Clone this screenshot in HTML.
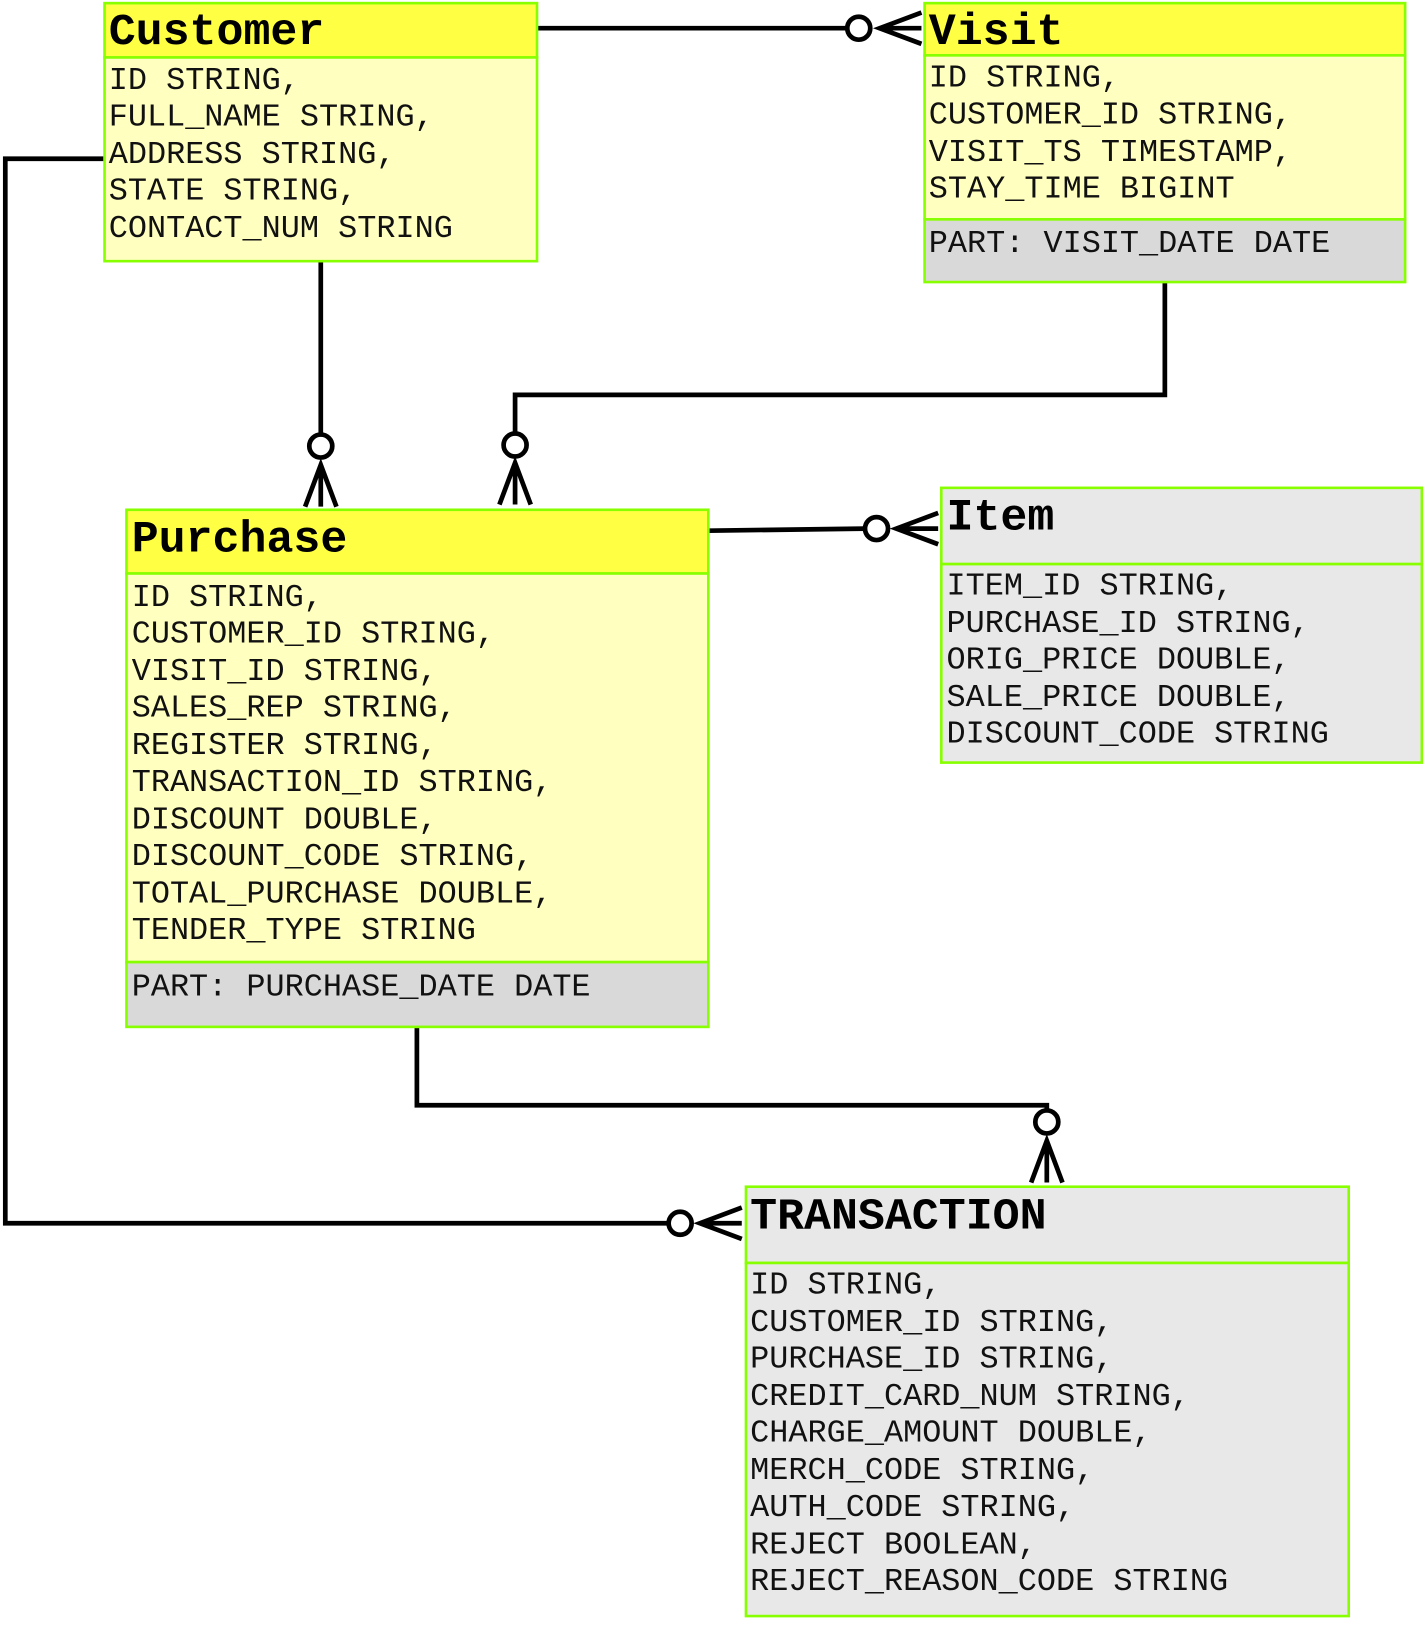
<!DOCTYPE html>
<html><head><meta charset="utf-8"><style>
html,body{margin:0;padding:0;background:#fff;}
svg{display:block;}
.t{font-family:"Liberation Mono","Courier New",monospace;font-size:30.5px;fill:#111;}
.h{font-family:"Liberation Mono","Courier New",monospace;font-size:43px;font-weight:bold;fill:#000;}
.c{stroke:#000;stroke-width:4.5;fill:none;}
.o{stroke:#000;stroke-width:4.5;fill:#fff;}
.b{stroke:#88ff00;stroke-width:2.5;}
</style></head><body>
<svg width="1424" height="1638" viewBox="0 0 1363 1568" xmlns="http://www.w3.org/2000/svg">
<path class="c" d="M514 27 H822"/>
<circle class="o" cx="822" cy="27" r="11"/>
<path class="c" d="M882 12 L842 27 L882 42 M842 27 H882"/>

<path class="c" d="M307 250 V416"/>
<circle class="o" cx="307" cy="427" r="11"/>
<path class="c" d="M292 485 L307 445 L322 485 M307 445 V485"/>

<path class="c" d="M1115 270 V378 H493 V415"/>
<circle class="o" cx="493" cy="426" r="11"/>
<path class="c" d="M478 483 L493 443 L508 483 M493 443 V483"/>

<path class="c" d="M678 508 L828 506"/>
<circle class="o" cx="839" cy="506" r="11"/>
<path class="c" d="M898 491 L858 506 L898 521 M858 506 H898"/>

<path class="c" d="M399 983 V1058 H1002 V1063"/>
<circle class="o" cx="1002" cy="1074" r="11"/>
<path class="c" d="M987 1132 L1002 1092 L1017 1132 M1002 1092 V1132"/>

<path class="c" d="M100 152 H5 V1171 H640"/>
<circle class="o" cx="651" cy="1171" r="11"/>
<path class="c" d="M710 1156 L670 1171 L710 1186 M670 1171 H710"/>

<rect class="b" x="100" y="3" width="414" height="52" fill="#ffff44"/>
<rect class="b" x="100" y="55" width="414" height="195" fill="#ffffc0"/>
<text class="h" x="104" y="42">Customer</text>
<text class="t" x="104" y="85">ID STRING,</text>
<text class="t" x="104" y="120">FULL_NAME STRING,</text>
<text class="t" x="104" y="156">ADDRESS STRING,</text>
<text class="t" x="104" y="191">STATE STRING,</text>
<text class="t" x="104" y="227">CONTACT_NUM STRING</text>

<rect class="b" x="885" y="3" width="460" height="50" fill="#ffff44"/>
<rect class="b" x="885" y="53" width="460" height="157" fill="#ffffc0"/>
<rect class="b" x="885" y="210" width="460" height="60" fill="#d9d9d9"/>
<text class="h" x="889" y="42">Visit</text>
<text class="t" x="889" y="83">ID STRING,</text>
<text class="t" x="889" y="118">CUSTOMER_ID STRING,</text>
<text class="t" x="889" y="154">VISIT_TS TIMESTAMP,</text>
<text class="t" x="889" y="189">STAY_TIME BIGINT</text>
<text class="t" x="889" y="241">PART: VISIT_DATE DATE</text>

<rect class="b" x="121" y="488" width="557" height="61" fill="#ffff44"/>
<rect class="b" x="121" y="549" width="557" height="372" fill="#ffffc0"/>
<rect class="b" x="121" y="921" width="557" height="62" fill="#d9d9d9"/>
<text class="h" x="126" y="528">Purchase</text>
<text class="t" x="126" y="580">ID STRING,</text>
<text class="t" x="126" y="615">CUSTOMER_ID STRING,</text>
<text class="t" x="126" y="651">VISIT_ID STRING,</text>
<text class="t" x="126" y="686">SALES_REP STRING,</text>
<text class="t" x="126" y="722">REGISTER STRING,</text>
<text class="t" x="126" y="757">TRANSACTION_ID STRING,</text>
<text class="t" x="126" y="793">DISCOUNT DOUBLE,</text>
<text class="t" x="126" y="828">DISCOUNT_CODE STRING,</text>
<text class="t" x="126" y="864">TOTAL_PURCHASE DOUBLE,</text>
<text class="t" x="126" y="899">TENDER_TYPE STRING</text>
<text class="t" x="126" y="953">PART: PURCHASE_DATE DATE</text>

<rect class="b" x="901" y="467" width="460" height="73" fill="#e8e8e8"/>
<rect class="b" x="901" y="540" width="460" height="190" fill="#e8e8e8"/>
<text class="h" x="906" y="507">Item</text>
<text class="t" x="906" y="569">ITEM_ID STRING,</text>
<text class="t" x="906" y="605">PURCHASE_ID STRING,</text>
<text class="t" x="906" y="640">ORIG_PRICE DOUBLE,</text>
<text class="t" x="906" y="676">SALE_PRICE DOUBLE,</text>
<text class="t" x="906" y="711">DISCOUNT_CODE STRING</text>

<rect class="b" x="714" y="1136" width="577" height="73" fill="#e8e8e8"/>
<rect class="b" x="714" y="1209" width="577" height="338" fill="#e8e8e8"/>
<text class="h" x="718" y="1176">TRANSACTION</text>
<text class="t" x="718" y="1238">ID STRING,</text>
<text class="t" x="718" y="1274">CUSTOMER_ID STRING,</text>
<text class="t" x="718" y="1309">PURCHASE_ID STRING,</text>
<text class="t" x="718" y="1345">CREDIT_CARD_NUM STRING,</text>
<text class="t" x="718" y="1380">CHARGE_AMOUNT DOUBLE,</text>
<text class="t" x="718" y="1416">MERCH_CODE STRING,</text>
<text class="t" x="718" y="1451">AUTH_CODE STRING,</text>
<text class="t" x="718" y="1487">REJECT BOOLEAN,</text>
<text class="t" x="718" y="1522">REJECT_REASON_CODE STRING</text>
</svg>
</body></html>
